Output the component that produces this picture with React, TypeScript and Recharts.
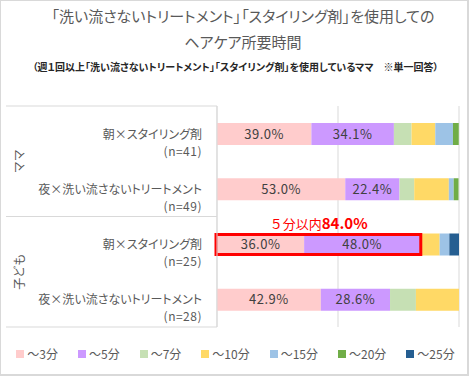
import React from "react";
import { Bar, BarChart, CartesianGrid, LabelList, Rectangle, XAxis, YAxis } from "recharts";

const ids = ["mama-am", "mama-pm", "kid-am", "kid-pm"];
const categories = ["朝×スタイリング剤", "夜×洗い流さないトリートメント", "朝×スタイリング剤", "夜×洗い流さないトリートメント"];
const sampleSizes = [41, 49, 25, 28];
const groups = ["ママ", "子ども"];

const timeBands = ["～3分", "～5分", "～7分", "～10分", "～15分", "～20分", "～25分"];
const bandKeys = ["s3", "s5", "s7", "s10", "s15", "s20", "s25"];
const bandColors = ["#FFCCCC", "#CC99FF", "#C6E0B4", "#FFD966", "#9DC3E6", "#70AD47", "#255E91"];

const upTo3 = [39.0, 53.0, 36.0, 42.9];
const upTo5 = [34.1, 22.4, 48.0, 28.6];
const upTo7 = [7.3, 6.1, 0, 10.7];
const upTo10 = [9.8, 14.3, 8.0, 17.8];
const upTo15 = [7.3, 2.0, 4.0, 0];
const upTo20 = [2.4, 2.0, 0, 0];
const upTo25 = [0, 0, 4.0, 0];

const highlightRow = 2;
const highlightLabel = "５分以内";
const highlightValue = 84.0;

const series = [upTo3, upTo5, upTo7, upTo10, upTo15, upTo20, upTo25];
const data = ids.map((id, i) => {
  const row: any = { id };
  bandKeys.forEach((k, j) => (row[k] = series[j][i]));
  return row;
});

const W = 469;
const H = 376;
const margin = { top: 106, right: 10, bottom: 49, left: 0 };
const axisW = 217;
const band = (H - margin.top - margin.bottom) / ids.length;
const FONT = '"Noto Sans CJK JP", "Noto Sans", sans-serif';
const GRAY = "#595959";
const LINE = "#d9d9d9";
const palt = { fontFeatureSettings: '"palt"' };

function CategoryTick(props: any) {
  const { x, y, payload } = props;
  const i = payload.index;
  const tx = x - 7;
  return (
    <g>
      <text x={tx} y={y + 5} textAnchor="end" fontSize={12} fill={GRAY} fontFamily={FONT} style={palt}>
        {categories[i]}
      </text>
      <text x={tx} y={y + 22} textAnchor="end" fontSize={12} fill={GRAY} fontFamily={FONT} letterSpacing={0.5}>
        {`(n=${sampleSizes[i]})`}
      </text>
      {i % 2 === 0 && (
        <>
          <line x1={6} x2={axisW} y1={y - band / 2} y2={y - band / 2} stroke={LINE} />
          <text
            x={18}
            y={y + band / 2}
            transform={`rotate(-90 18 ${y + band / 2})`}
            textAnchor="middle"
            dominantBaseline="central"
            fontSize={12}
            fill={GRAY}
            fontFamily={FONT}
          >
            {groups[i / 2]}
          </text>
        </>
      )}
      {i === ids.length - 1 && (
        <line x1={6} x2={axisW} y1={y + band / 2} y2={y + band / 2} stroke={LINE} />
      )}
    </g>
  );
}

// last stacked segment: draws itself, then the red highlight box on top of the whole row
function LastSegment(props: any) {
  const { x, y, width, height, payload, index } = props;
  const seg = <Rectangle x={x} y={y} width={width} height={height} fill={props.fill} />;
  if (index !== highlightRow) return seg;
  const last = payload[bandKeys[bandKeys.length - 1]];
  const before = bandKeys.slice(0, -1).reduce((s, k) => s + payload[k], 0);
  const ppp = width / last;
  const x0 = x - before * ppp;
  const x1 = x0 + highlightValue * ppp;
  const cy = y + height / 2;
  return (
    <g>
      {seg}
      <rect x={x0 - 1} y={cy - 10} width={x1 - x0 + 1.5} height={20} fill="none" stroke="#FF0000" strokeWidth={3} />
      <text x={(x0 + x1) / 2} y={cy - 16} textAnchor="middle" fill="#FF0000" fontFamily={FONT}>
        <tspan fontSize={13}>{highlightLabel}</tspan>
        <tspan fontSize={15} fontWeight={700}>{`${highlightValue.toFixed(1)}%`}</tspan>
      </text>
    </g>
  );
}

function LegendRow() {
  return (
    <div
      style={{
        position: "absolute",
        top: 344,
        left: 0,
        width: W,
        display: "flex",
        justifyContent: "center",
        gap: 20,
        fontFamily: FONT,
        fontSize: 12,
        color: GRAY,
      }}
    >
      {timeBands.map((t, i) => (
        <div key={t} style={{ display: "flex", alignItems: "center" }}>
          <span style={{ width: 8, height: 8, background: bandColors[i], marginRight: 3, display: "inline-block" }} />
          {t}
        </div>
      ))}
    </div>
  );
}

export default function App() {
  return (
    <div
      style={{
        position: "absolute",
        left: 0,
        top: 0,
        width: W,
        height: H,
        boxSizing: "border-box",
        border: "1px solid #d9d9d9",
        borderRightWidth: 2,
        borderBottomWidth: 2,
        background: "#fff",
        fontFamily: FONT,
      }}
    >
      <div
        style={{
          position: "absolute",
          top: 2,
          left: 0,
          width: 484,
          textAlign: "center",
          fontSize: 15,
          lineHeight: "26px",
          color: GRAY,
          ...palt,
        }}
      >
        <div>「洗い流さないトリートメント」「スタイリング剤」を使用しての</div>
        <div>ヘアケア所要時間</div>
      </div>
      <div
        style={{
          position: "absolute",
          top: 58,
          left: 0,
          width: 469,
          textAlign: "center",
          fontSize: 10,
          fontWeight: 700,
          color: "#262626",
          ...palt,
        }}
      >
        （週１回以上「洗い流さないトリートメント」「スタイリング剤」を使用しているママ　※単一回答）
      </div>
      <div style={{ position: "absolute", left: -1, top: -1 }}>
        <BarChart width={W} height={H} data={data} layout="vertical" margin={margin} barSize={22}>
          <CartesianGrid horizontal={false} stroke={LINE} />
          <XAxis type="number" domain={[0, 100]} ticks={[0, 50, 100]} hide />
          <YAxis
            type="category"
            dataKey="id"
            width={axisW}
            tickLine={false}
            axisLine={{ stroke: LINE }}
            tick={<CategoryTick />}
            interval={0}
          />
          {bandKeys.map((k, j) => (
            <Bar
              key={k}
              dataKey={k}
              name={timeBands[j]}
              stackId="a"
              fill={bandColors[j]}
              isAnimationActive={false}
              shape={j === bandKeys.length - 1 ? <LastSegment /> : undefined}
            >
              {j < 2 && (
                <LabelList
                  dataKey={k}
                  position="center"
                  formatter={(v: any) => `${Number(v).toFixed(1)}%`}
                  fill="#404040"
                  fontSize={13}
                  fontFamily={FONT}
                  letterSpacing={0.5}
                />
              )}
            </Bar>
          ))}
        </BarChart>
      </div>
      <LegendRow />
    </div>
  );
}
